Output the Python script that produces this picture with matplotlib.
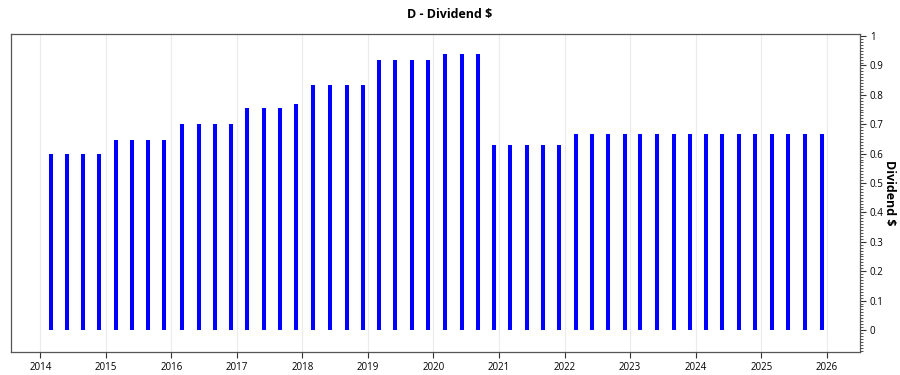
import datetime as dt

import matplotlib
matplotlib.use("Agg")
import matplotlib.pyplot as plt
import matplotlib.dates as mdates
from matplotlib.ticker import MultipleLocator

plt.rcParams["font.family"] = ["Open Sans", "DejaVu Sans"]

ex_dates = [
    "2014-02-27", "2014-05-29", "2014-08-27", "2014-11-24",
    "2015-02-26", "2015-05-27", "2015-08-26", "2015-11-24",
    "2016-03-02", "2016-06-01", "2016-08-31", "2016-11-29",
    "2017-02-25", "2017-05-30", "2017-08-28", "2017-11-24",
    "2018-03-02", "2018-06-04", "2018-09-05", "2018-12-03",
    "2019-03-02", "2019-06-02", "2019-09-04", "2019-12-02",
    "2020-03-06", "2020-06-07", "2020-09-04", "2020-12-05",
    "2021-03-04", "2021-06-03", "2021-09-02", "2021-12-02",
    "2022-03-03", "2022-05-31", "2022-08-30", "2022-12-01",
    "2023-02-28", "2023-05-31", "2023-08-31", "2023-11-30",
    "2024-02-26", "2024-05-28", "2024-08-28", "2024-11-27",
    "2025-02-28", "2025-05-30", "2025-09-01", "2025-12-03",
]
dividends = (
    [0.60] * 4
    + [0.6475] * 4
    + [0.70] * 4
    + [0.755] * 3 + [0.77]
    + [0.835] * 4
    + [0.9175] * 4
    + [0.94] * 3 + [0.63]
    + [0.63] * 4
    + [0.6675] * 16
)
years = list(range(2014, 2027))

dates = [dt.datetime.strptime(d, "%Y-%m-%d") for d in ex_dates]

fig = plt.figure(figsize=(9, 3.75), dpi=100)
ax = fig.add_axes([0.0122, 0.0613, 0.9434, 0.848])

ax.vlines(dates, 0, dividends, colors="#0000ff", linewidth=2.9)

x0 = mdates.date2num(dt.datetime(2014, 1, 1)) - 0.447 * 365.25
x1 = mdates.date2num(dt.datetime(2026, 1, 1)) + 0.508 * 365.25
ax.set_xlim(x0, x1)
ax.set_ylim(-0.075, 1.007)

ax.set_xticks([dt.datetime(y, 1, 1) for y in years])
ax.xaxis.set_major_formatter(mdates.DateFormatter("%Y"))
ax.grid(axis="x", color="#ebebeb", linewidth=0.8)
ax.set_axisbelow(True)

ax.yaxis.tick_right()
ax.yaxis.set_label_position("right")
ax.yaxis.set_minor_locator(MultipleLocator(0.01))
ax.set_yticks([i / 10 for i in range(11)])
ax.set_yticklabels(["0"] + [f"{i / 10:g}" for i in range(1, 10)] + ["1"])
ax.tick_params(axis="y", which="major", length=4, labelsize=7, pad=3, color="#333333")
ax.tick_params(axis="y", which="minor", length=2, color="#333333")
ax.tick_params(axis="x", length=4, labelsize=7, pad=3, color="#333333")
ax.set_ylabel("Dividend $", rotation=270, labelpad=9, fontsize=9, fontweight="bold")

for s in ax.spines.values():
    s.set_color("#555555")
    s.set_linewidth(0.9)

fig.text(0.5, 0.962, "D - Dividend $", ha="center", va="center", fontsize=9, fontweight="bold")

fig.savefig("out.png", dpi=100)
